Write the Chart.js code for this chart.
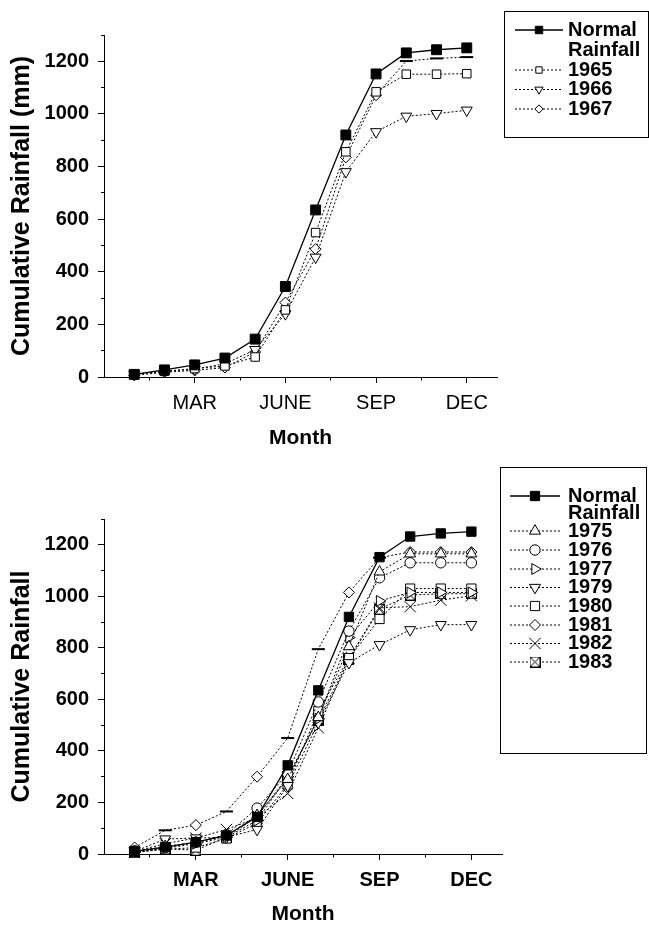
<!DOCTYPE html>
<html><head><meta charset="utf-8">
<script src="https://cdn.jsdelivr.net/npm/chart.js@4/dist/chart.umd.min.js"></script>
<style>
html,body{margin:0;padding:0;background:#fff;}
#wrap{position:relative;width:649px;height:927px;overflow:hidden;background:#fff;}
canvas{position:absolute;left:0;}
#c1{top:0;}
#c2{top:463px;}
</style></head><body>
<div id="wrap"><canvas id="c1" width="649" height="463"></canvas><canvas id="c2" width="649" height="464"></canvas></div>
<script>
// ---------- data ----------
const months = [1,2,3,4,5,6,7,8,9,10,11,12];
const monthTickValues = [3,6,9,12];
const monthTickLabels = ['MAR','JUNE','SEP','DEC'];
const minorMonthTicks = [1.5,4.5,7.5,10.5];
const yTickValues = [0,200,400,600,800,1000,1200];
const yMinorTicks = [0,100,200,300,400,500,600,700,800,900,1000,1100,1200,1300];

const normalRainfall = [10, 27, 46, 72, 144, 344, 635, 920, 1152, 1232, 1244, 1251];
const rain1965 = [9, 22, 32, 42, 76, 255, 549, 856, 1084, 1151, 1151, 1153];
const rain1966 = [11, 22, 30, 50, 104, 240, 455, 780, 932, 991, 1001, 1014];
const rain1967 = [6, 18, 25, 36, 95, 283, 486, 835, 1071, 1201, 1211, 1216];

const rain1975 = [10, 30, 45, 70, 150, 290, 530, 805, 1095, 1165, 1165, 1165];
const rain1976 = [12, 25, 45, 75, 178, 312, 590, 865, 1072, 1130, 1130, 1130];
const rain1977 = [8, 22, 40, 65, 130, 300, 525, 840, 982, 1015, 1015, 1015];
const rain1979 = [10, 58, 62, 65, 95, 265, 510, 742, 812, 870, 890, 890];
const rain1980 = [8, 18, 25, 60, 120, 270, 555, 760, 912, 1030, 1030, 1030];
const rain1981 = [25, 92, 112, 165, 300, 450, 795, 1015, 1150, 1172, 1172, 1172];
const rain1982 = [10, 40, 62, 95, 140, 235, 490, 760, 955, 960, 985, 1002];
const rain1983 = [5, 20, 15, 65, 145, 300, 520, 755, 950, 1005, 1010, 1010];

// ---------- styling ----------
const FONT = '"Liberation Sans", Arial, Helvetica, sans-serif';
Chart.defaults.font.family = FONT;
Chart.defaults.color = '#000';

function crossedSquare(size){
  const c = document.createElement('canvas'); c.width = size; c.height = size;
  const g = c.getContext('2d');
  g.fillStyle = '#fff'; g.fillRect(0.5,0.5,size-1,size-1);
  g.strokeStyle = '#000'; g.lineWidth = 1; g.strokeRect(0.5,0.5,size-1,size-1);
  g.beginPath(); g.moveTo(0.5,0.5); g.lineTo(size-0.5,size-0.5); g.moveTo(size-0.5,0.5); g.lineTo(0.5,size-0.5); g.stroke();
  return c;
}
const xSquare = crossedSquare(11);

function pts(values){ return months.map((m,i)=>({x:m, y:values[i]})); }

function series(label, values, style, extra){
  return Object.assign({
    label: label, data: pts(values),
    borderColor:'#000', borderWidth:1, borderDash:[2,2],
    pointStyle: style, pointRadius:5.5, pointHoverRadius:5.5, pointBorderWidth:1,
    pointBorderColor:'#000', pointBackgroundColor:'#fff', pointRotation:0,
    tension:0, fill:false, clip:false
  }, extra || {});
}
function normalSeries(radius){
  return series('Normal Rainfall', normalRainfall, 'rect', {borderDash:[], borderWidth:1.3, pointRadius:radius, pointHoverRadius:radius, pointBackgroundColor:'#000'});
}
// marker style per point where the reference shows short dashes instead of diamonds
function mixedStyle(dashMonths){ return months.map(m => dashMonths.indexOf(m) >= 0 ? 'line' : 'rectRot'); }
function mixedRadius(dashMonths){ return months.map(m => dashMonths.indexOf(m) >= 0 ? 6.5 : 5.5); }
function mixedWidth(dashMonths){ return months.map(m => dashMonths.indexOf(m) >= 0 ? 2 : 1); }

const boxLegend = {
  id:'boxLegend',
  afterDraw(chart, args, o){
    const ctx = chart.ctx; ctx.save();
    ctx.strokeStyle = '#000'; ctx.lineWidth = 1; ctx.setLineDash([]);
    ctx.strokeRect(o.box[0]+0.5, o.box[1]+0.5, o.box[2]-o.box[0], o.box[3]-o.box[1]);
    let row = 0;
    chart.data.datasets.forEach(ds => {
      const y = o.rows[row];
      ctx.save();
      ctx.strokeStyle = '#000'; ctx.lineWidth = ds.borderWidth; ctx.setLineDash(ds.borderDash || []);
      ctx.beginPath(); ctx.moveTo(o.x1, y); ctx.lineTo(o.x2, y); ctx.stroke();
      ctx.setLineDash([]);
      ctx.fillStyle = ds.pointBackgroundColor; ctx.strokeStyle = '#000'; ctx.lineWidth = 1;
      const st = Array.isArray(ds.pointStyle) ? ds.pointStyle[0] : ds.pointStyle;
      const rad = (Array.isArray(ds.pointRadius) ? ds.pointRadius[0] : ds.pointRadius) * o.markerScale;
      if (Chart.helpers && Chart.helpers.drawPoint) {
        Chart.helpers.drawPoint(ctx, {pointStyle: st, rotation: ds.pointRotation || 0, radius: rad, borderWidth: 1}, (o.x1+o.x2)/2, y);
      }
      ctx.restore();
      ctx.fillStyle = '#000'; ctx.font = 'bold ' + o.fontSize + 'px ' + FONT;
      ctx.textBaseline = 'middle'; ctx.textAlign = 'left';
      ds.label.split(' ').forEach(line => { ctx.fillText(line, o.textX, o.rows[row]); row++; });
    });
    ctx.restore();
  }
};

function makeScales(c){
  return {
    x: { type:'linear', min:0, max:13, position:'bottom', weight:1,
      afterBuildTicks: s => { s.ticks = monthTickValues.map(v => ({value:v})); },
      afterFit: s => { s.height = c.xHeight; },
      ticks: { callback: v => monthTickLabels[monthTickValues.indexOf(v)], autoSkip:false, maxRotation:0, padding:8, color:'#000',
        font:{family:FONT, size:20, weight: c.xBold ? 'bold' : 'normal'} },
      grid: { drawOnChartArea:false, drawTicks:true, tickLength:6, color:'#000', tickColor:'#000', tickWidth:1 },
      border: { display:true, color:'#000', width:1 },
      title: { display:true, text:'Month', color:'#000', font:{family:FONT, size:21, weight:'bold', lineHeight:1}, padding:{top:0, bottom:c.xTitlePad} }
    },
    xMinor: { type:'linear', min:0, max:13, position:'bottom', weight:0,
      afterBuildTicks: s => { s.ticks = minorMonthTicks.map(v => ({value:v})); },
      afterFit: s => { s.height = 0; },
      ticks: { display:false },
      grid: { drawOnChartArea:false, drawTicks:true, tickLength:3.5, color:'#000', tickColor:'#000', tickWidth:1 },
      border: { display:false }
    },
    y: { type:'linear', min:0, max:1300, position:'left', weight:1,
      afterBuildTicks: s => { s.ticks = yTickValues.map(v => ({value:v})); },
      afterFit: s => { s.width = 104; },
      ticks: { callback: v => String(v), padding:9, color:'#000', font:{family:FONT, size:20, weight:'bold'} },
      grid: { drawOnChartArea:false, drawTicks:true, tickLength:6, color:'#000', tickColor:'#000', tickWidth:1 },
      border: { display:true, color:'#000', width:1 },
      title: { display:true, text:c.yTitle, color:'#000', font:{family:FONT, size:25, weight:'bold', lineHeight:1}, padding:{top:c.yTitlePad, bottom:0} }
    },
    yMinor: { type:'linear', min:0, max:1300, position:'left', weight:0,
      afterBuildTicks: s => { s.ticks = yMinorTicks.map(v => ({value:v})); },
      afterFit: s => { s.width = 0; },
      ticks: { display:false },
      grid: { drawOnChartArea:false, drawTicks:true, tickLength:3, color:'#000', tickColor:'#000', tickWidth:1 },
      border: { display:false }
    }
  };
}

function makeChart(id, datasets, c, legendOpts){
  return new Chart(document.getElementById(id), {
    type:'line',
    data:{ datasets: datasets },
    options:{
      responsive:false, animation:false, devicePixelRatio:1,
      layout:{ padding:{ left:0, top:c.padTop, right:c.padRight, bottom:0 } },
      scales: makeScales(c),
      plugins:{ legend:{display:false}, tooltip:{enabled:false}, boxLegend: legendOpts },
      elements:{ line:{ borderJoinStyle:'miter' } }
    },
    plugins:[boxLegend]
  });
}

// ---------- top chart ----------
const dash1967 = [10,11,12];
makeChart('c1', [
  normalSeries(7),
  series('1965', rain1965, 'rect', {pointRadius:6, pointHoverRadius:6}),
  series('1966', rain1966, 'triangle', {pointRotation:180, pointRadius:6.3, pointHoverRadius:6.3}),
  series('1967', rain1967, mixedStyle(dash1967), {pointRadius:mixedRadius(dash1967), pointBorderWidth:mixedWidth(dash1967)})
], {padTop:35, padRight:152, xHeight:86, xBold:false, xTitlePad:14, yTitle:'Cumulative Rainfall (mm)', yTitlePad:10},
{ box:[504,11,648,137], x1:515, x2:563, textX:568, rows:[30,50,70,89.5,109], fontSize:20, markerScale:0.75 });

// ---------- bottom chart ----------
const dash1981 = [2,4,6,7,9];
makeChart('c2', [
  normalSeries(6.6),
  series('1975', rain1975, 'triangle', {pointRadius:6.3, pointHoverRadius:6.3}),
  series('1976', rain1976, 'circle', {pointRadius:5.2, pointHoverRadius:5.2}),
  series('1977', rain1977, 'triangle', {pointRotation:90, pointRadius:6.3, pointHoverRadius:6.3}),
  series('1979', rain1979, 'triangle', {pointRotation:180, pointRadius:6.3, pointHoverRadius:6.3}),
  series('1980', rain1980, 'rect', {pointRadius:6.5, pointHoverRadius:6.5}),
  series('1981', rain1981, mixedStyle(dash1981), {pointRadius:mixedRadius(dash1981), pointBorderWidth:mixedWidth(dash1981)}),
  series('1982', rain1982, 'crossRot', {pointRadius:8, pointHoverRadius:8}),
  series('1983', rain1983, xSquare, {pointRadius:5.5})
], {padTop:56, padRight:147, xHeight:73, xBold:true, xTitlePad:2, yTitle:'Cumulative Rainfall', yTitlePad:10},
{ box:[500,4,646,290], x1:510, x2:560, textX:568, rows:[33,50.5,68,87,106,124.5,143,162,180.5,199], fontSize:20, markerScale:1 });
</script>
</body></html>
